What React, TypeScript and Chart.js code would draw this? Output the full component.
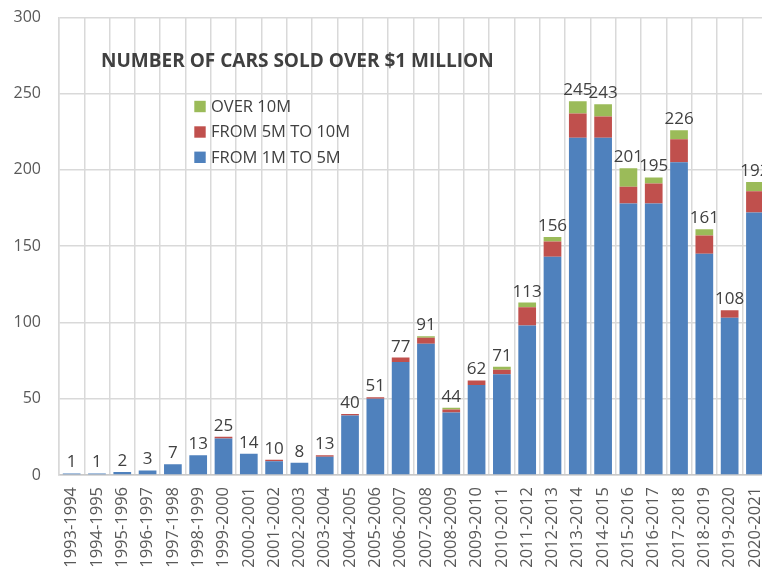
import React, { useEffect, useRef } from "react";
import { Chart, registerables } from "chart.js";
Chart.register(...registerables);

const categories = [
  "1993-1994", "1994-1995", "1995-1996", "1996-1997", "1997-1998", "1998-1999", "1999-2000",
  "2000-2001", "2001-2002", "2002-2003", "2003-2004", "2004-2005", "2005-2006", "2006-2007",
  "2007-2008", "2008-2009", "2009-2010", "2010-2011", "2011-2012", "2012-2013", "2013-2014",
  "2014-2015", "2015-2016", "2016-2017", "2017-2018", "2018-2019", "2019-2020", "2020-2021",
];
const from1Mto5M = [1, 1, 2, 3, 7, 13, 24, 14, 9, 8, 12, 39, 50, 74, 86, 41, 59, 66, 98, 143, 221, 221, 178, 178, 205, 145, 103, 172];
const from5Mto10M = [0, 0, 0, 0, 0, 0, 1, 0, 1, 0, 1, 1, 1, 3, 4, 2, 3, 3, 12, 10, 16, 14, 11, 13, 15, 12, 5, 14];
const over10M = [0, 0, 0, 0, 0, 0, 0, 0, 0, 0, 0, 0, 0, 0, 1, 1, 0, 2, 3, 3, 8, 8, 12, 4, 6, 4, 0, 6];
const yTicks = [0, 50, 100, 150, 200, 250, 300];

const TITLE = "NUMBER OF CARS SOLD OVER $1 MILLION";
const FONT = '"Open Sans", "DejaVu Sans", sans-serif';
const BLUE = "#4F81BD";
const RED = "#C0504D";
const GREEN = "#9BBB59";
const TEXT = "#404040";

export default function App() {
  const ref = useRef<HTMLCanvasElement>(null);
  useEffect(() => {
    if (!ref.current) return;
    const html = document.documentElement.style;
    const body = document.body.style;
    const prev = { o: html.overflow, m: body.marginRight };
    html.overflow = "hidden";
    body.marginRight = "0px";
    const overlay = {
      id: "overlay",
      afterDatasetsDraw(chart: any) {
        const ctx = chart.ctx;
        const ys = chart.scales.y;
        const meta = chart.getDatasetMeta(0);
        ctx.save();
        // totals
        ctx.fillStyle = TEXT;
        ctx.font = `17px ${FONT}`;
        ctx.textAlign = "center";
        ctx.textBaseline = "alphabetic";
        categories.forEach((_, i) => {
          const total = from1Mto5M[i] + from5Mto10M[i] + over10M[i];
          const x = meta.data[i].x;
          const y = ys.getPixelForValue(total) - 6;
          ctx.fillText(String(total), x, y);
        });
        // title
        ctx.font = `bold 20px ${FONT}`;
        const w = ctx.measureText(TITLE).width;
        const size = (20 * 393) / w;
        ctx.font = `bold ${size}px ${FONT}`;
        ctx.textAlign = "left";
        ctx.textBaseline = "middle";
        ctx.fillText(TITLE, 93, 54);
        // legend
        const items = [
          { label: "OVER 10M", color: GREEN },
          { label: "FROM 5M TO 10M", color: RED },
          { label: "FROM 1M TO 5M", color: BLUE },
        ];
        const rows = [98.5, 124, 149.3];
        ctx.font = `16.5px ${FONT}`;
        items.forEach((it, k) => {
          ctx.fillStyle = it.color;
          ctx.fillRect(186.3, rows[k] - 5.7, 11.4, 11.4);
          ctx.fillStyle = TEXT;
          ctx.fillText(it.label, 203, rows[k] + 0.5);
        });
        ctx.restore();
      },
    };
    const chart = new Chart(ref.current, {
      type: "bar",
      data: {
        labels: categories,
        datasets: [
          { label: "FROM 1M TO 5M", data: from1Mto5M, backgroundColor: BLUE, borderWidth: 0 },
          { label: "FROM 5M TO 10M", data: from5Mto10M, backgroundColor: RED, borderWidth: 0 },
          { label: "OVER 10M", data: over10M, backgroundColor: GREEN, borderWidth: 0 },
        ],
      },
      options: {
        responsive: false,
        animation: false,
        layout: { padding: { top: 9.3, left: 0, right: 2.4, bottom: 0 } },
        datasets: { bar: { barPercentage: 0.7, categoryPercentage: 1 } },
        plugins: { legend: { display: false }, tooltip: { enabled: false }, title: { display: false } },
        scales: {
          x: {
            stacked: true,
            grid: { color: "#d9d9d9", lineWidth: 1.5, drawTicks: false, offset: true },
            border: { color: "#c8c8c8", width: 1.5 },
            ticks: {
              font: { family: FONT, size: 16.5 },
              color: "#595959",
              maxRotation: 90,
              minRotation: 90,
              padding: 12,
              autoSkip: false,
            },
            afterFit(s: any) {
              s.height = 97;
              s.paddingLeft = 0;
              s.paddingRight = 0;
            },
          },
          y: {
            stacked: true,
            min: 0,
            max: 300,
            grid: { color: "#d9d9d9", lineWidth: 1.5, drawTicks: false },
            border: { color: "#d9d9d9", width: 1.5 },
            ticks: { font: { family: FONT, size: 16 }, color: "#595959", padding: 18 },
            afterBuildTicks(s: any) {
              s.ticks = yTicks.map((v) => ({ value: v }));
            },
            afterFit(s: any) {
              s.width = 51;
              s.paddingTop = 0;
              s.paddingBottom = 0;
            },
          },
        },
      } as any,
      plugins: [overlay],
    });
    return () => {
      chart.destroy();
      html.overflow = prev.o;
      body.marginRight = prev.m;
    };
  }, []);
  return (
    <div style={{ width: 754, height: 564, overflow: "visible" }}>
      <canvas ref={ref} width={762} height={564} style={{ display: "block" }} />
    </div>
  );
}
